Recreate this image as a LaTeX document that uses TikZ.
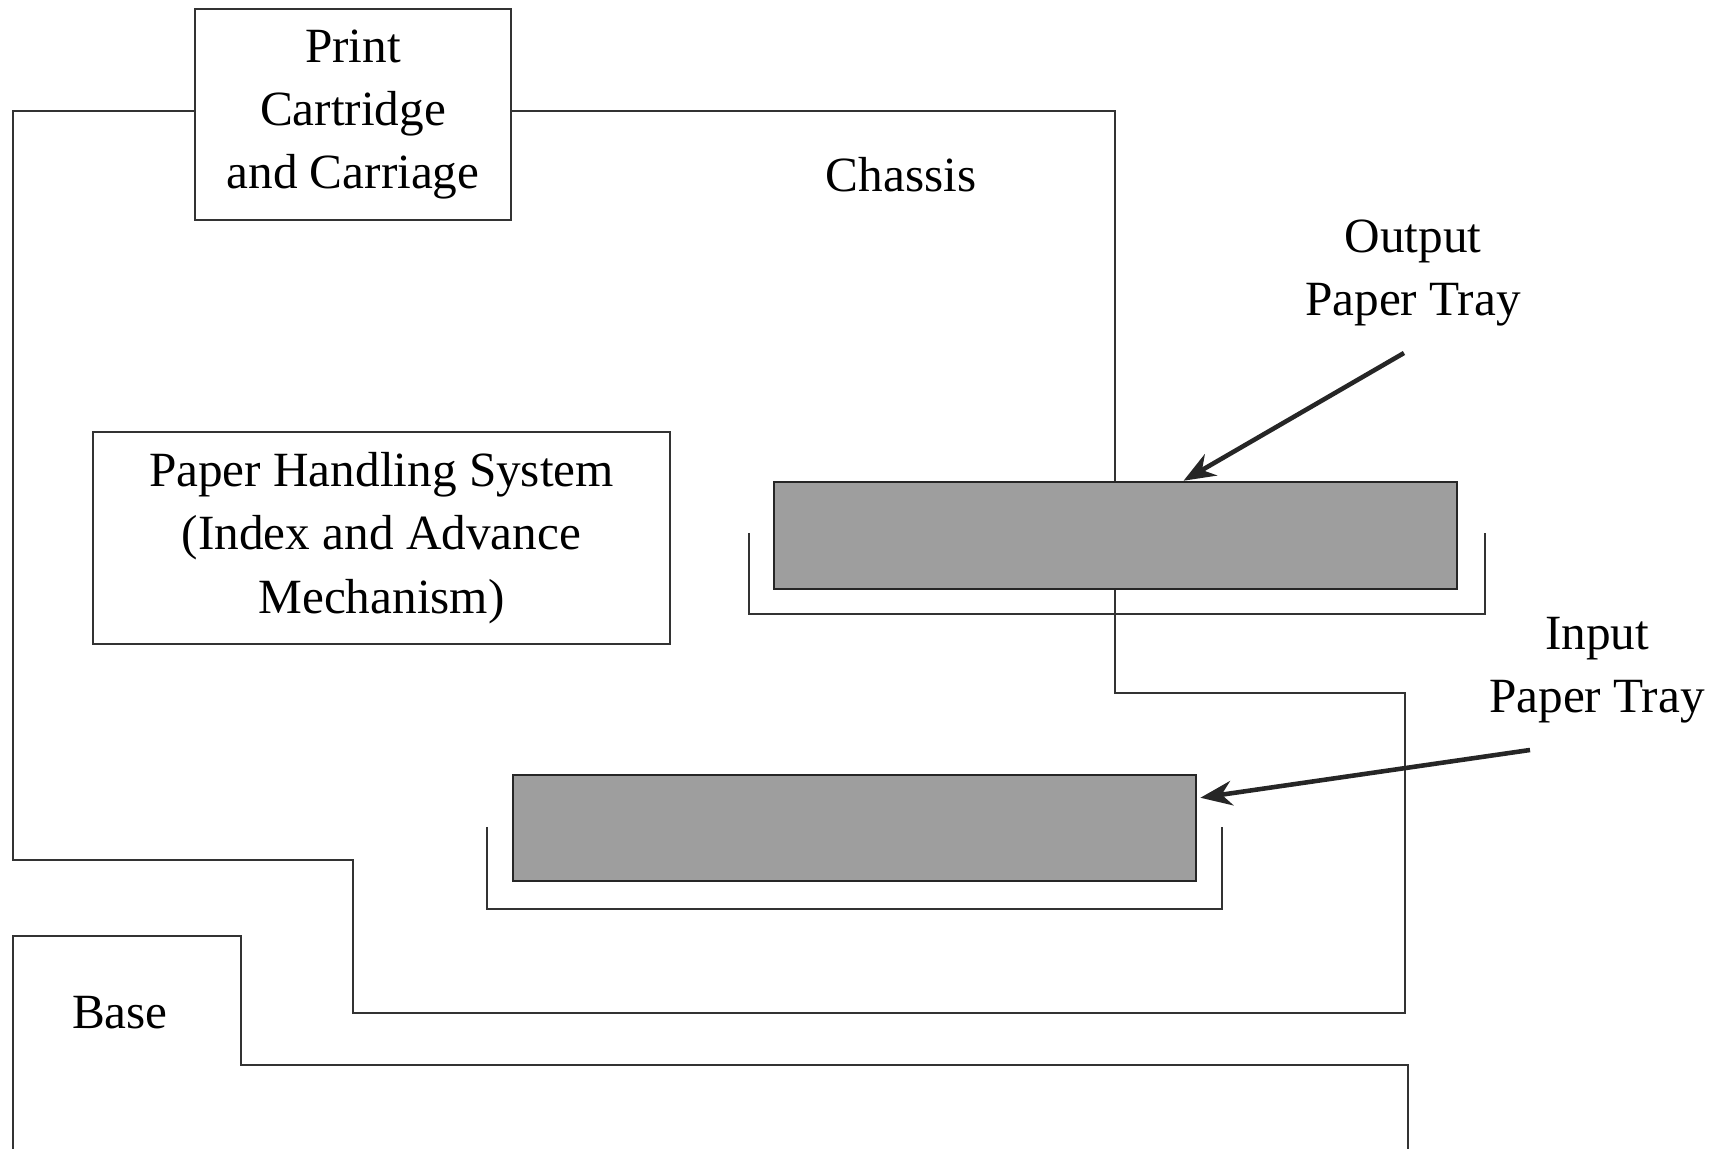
\documentclass[tikz,border=0pt]{standalone}
\usepackage{fontspec}
\setmainfont{Liberation Serif}
\usepackage{tikz}
\usetikzlibrary{arrows.meta}

\begin{document}
\begin{tikzpicture}[x=0.01cm, y=-0.01cm,
    line width=0.7pt, draw=black!80,
    box/.style={draw=black!80, align=center, inner sep=0pt},
    tray/.style={draw=black!85, fill=black!38, inner sep=0pt},
    lbl/.style={align=center, font=\fontsize{14}{18}\selectfont},
    ptr/.style={-{Stealth[length=9pt, width=7pt]}, line width=1.3pt, draw=black!85}]
    \useasboundingbox (0,0) rectangle (1717,1149);

    % chassis outline and base
    \node[box, lbl, minimum width=3.16cm, minimum height=2.11cm] (cart) at (353,114.5)
        {Print\\Cartridge\\and Carriage};
    \draw (cart.west |- 0,111) -- (13,111) -- (13,860) -- (353,860) -- (353,1013)
        -- (1405,1013) -- (1405,693) -- (1115,693) -- (1115,111) -- (cart.east |- 0,111);
    \draw (13,1149) -- (13,936) -- (241,936) -- (241,1065) -- (1408,1065) -- (1408,1149);

    \node[box, lbl, minimum width=5.77cm, minimum height=2.12cm] (phs) at (381.5,538)
        {Paper Handling System\\(Index and Advance\\Mechanism)};

    % trays and their holders
    \draw (749,533) -- (749,614) -- (1485,614) -- (1485,533);
    \draw (487,827) -- (487,909) -- (1222,909) -- (1222,827);
    \node[tray, minimum width=6.83cm, minimum height=1.07cm] (outtray) at (1115.5,535.5) {};
    \node[tray, minimum width=6.83cm, minimum height=1.06cm] (intray) at (854.5,828) {};

    \node[lbl] (chassis) at (901,175) {Chassis};
    \node[lbl] (base) at (120,1013) {Base};
    \node[lbl] (outlbl) at (1413,273) {Output\\Paper Tray};
    \node[lbl] (inlbl) at (1597,670) {Input\\Paper Tray};

    \coordinate (outtail) at (1404,353);
    \coordinate (intail) at (1530,750);
    \draw[ptr] (outtail) -- ([xshift=0.68cm]outtray.north);
    \draw[ptr] (intail) -- ([xshift=0.03cm, yshift=-0.24cm]intray.north east);
\end{tikzpicture}
\end{document}
